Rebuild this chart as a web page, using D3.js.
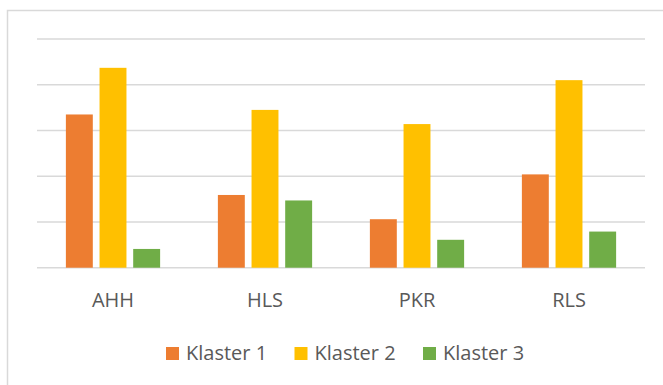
<!DOCTYPE html>
<html><head><meta charset="utf-8">
<script src="https://cdn.jsdelivr.net/npm/d3@7"></script>
<style>html,body{margin:0;padding:0;background:#fff;}svg{display:block;}</style>
</head><body>
<script>
const categories = ["AHH", "HLS", "PKR", "RLS"];
const seriesNames = ["Klaster 1", "Klaster 2", "Klaster 3"];
const klaster1 = [3.35, 1.59, 1.06, 2.04];
const klaster2 = [4.37, 3.45, 3.14, 4.10];
const klaster3 = [0.41, 1.47, 0.61, 0.79];
const gridTicks = [0, 1, 2, 3, 4, 5];
const colors = ["#ED7D31", "#FFC000", "#70AD47"];

const W = 663, H = 385;
const svg = d3.select("body").append("svg").attr("width", W).attr("height", H);
const font = "'Open Sans', sans-serif";

// chart border (cropped)
svg.append("path").attr("d", `M7.5,${H+2}V10.5H${W+2}`)
  .attr("fill", "none").attr("stroke", "#D9D9D9").attr("stroke-width", 1.5);

const x0 = d3.scaleBand().domain(categories).range([37, 645]).paddingInner(0.38).paddingOuter(0.19);
const x1 = d3.scaleBand().domain(seriesNames).range([0, x0.bandwidth()]).paddingInner(0.2);
const y = d3.scaleLinear().domain([0, 5]).range([267.7, 39]);

svg.append("g").selectAll("line").data(gridTicks).join("line")
  .attr("x1", 37).attr("x2", 645)
  .attr("y1", d => y(d)).attr("y2", d => y(d))
  .attr("stroke", "#D9D9D9").attr("stroke-width", 1.5);

const series = [klaster1, klaster2, klaster3];
series.forEach((vals, si) => {
  svg.append("g").selectAll("rect").data(vals).join("rect")
    .attr("x", (d, i) => x0(categories[i]) + x1(seriesNames[si]))
    .attr("width", x1.bandwidth())
    .attr("y", d => y(d))
    .attr("height", d => y(0) - y(d))
    .attr("fill", colors[si]);
});

// category labels
const xAxis = d3.axisBottom(x0).tickSize(0).tickPadding(0);
const gx = svg.append("g").attr("transform", `translate(0,${y(0)})`).call(xAxis);
gx.select(".domain").remove();
gx.selectAll("text").attr("dy", null).attr("y", 39)
  .attr("font-family", font).attr("font-size", 20).attr("fill", "#595959");

// legend
const legX = [166, 294.5, 423];
const lg = svg.append("g");
seriesNames.forEach((n, i) => {
  lg.append("rect").attr("x", legX[i]).attr("y", 347).attr("width", 13).attr("height", 13).attr("fill", colors[i]);
  lg.append("text").attr("x", legX[i] + 20).attr("y", 360).text(n)
    .attr("font-family", font).attr("font-size", 20).attr("fill", "#595959");
});
</script>
</body></html>
